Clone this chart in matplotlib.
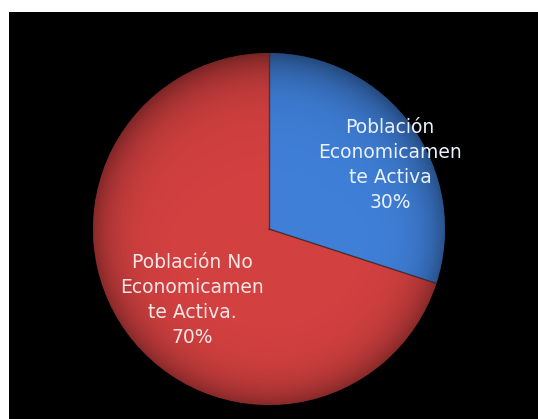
import numpy as np
import matplotlib.pyplot as plt
from matplotlib.patches import Circle

labels = ['Población\nEconomicamen\nte Activa\n30%',
          'Población No\nEconomicamen\nte Activa.\n70%']
shares = [30, 70]
colors = ['#3f7fd8', '#d24040']

W, H = 538, 419
fig = plt.figure(figsize=(W / 100, H / 100), dpi=100, facecolor='white')
# black plot area, in pixel units so the pie stays round
ax = fig.add_axes([9 / W, 0, (W - 9) / W, (H - 12) / H])
ax.set_facecolor('black')

cx, cy, r = 269, 419 - 229, 176
wedges, _ = ax.pie(shares, colors=colors, startangle=90, counterclock=False,
                   center=(cx, cy), radius=r, frame=True,
                   wedgeprops=dict(edgecolor='none', linewidth=0))

# dark seams between the slices
for w in wedges:
    a = np.deg2rad(w.theta1)
    ax.plot([cx, cx + r * np.cos(a)], [cy, cy + r * np.sin(a)],
            color='#3a2a2a', lw=1.0, alpha=0.8, zorder=4)

# soft bevel: darken toward the rim
n = 400
gx, gy = np.meshgrid(np.linspace(-1, 1, n), np.linspace(-1, 1, n))
rr = np.sqrt(gx ** 2 + gy ** 2)
shade = np.zeros((n, n, 4))
shade[..., 3] = np.clip(0.35 * rr ** 8 + 0.10 * np.clip(-gy, 0, 1) * rr ** 2, 0, 1)
im = ax.imshow(shade, extent=(cx - r, cx + r, cy - r, cy + r), origin='upper',
               zorder=3, interpolation='bilinear')
im.set_clip_path(Circle((cx, cy), r, transform=ax.transData))

ax.text(390, 419 - 165, labels[0], ha='center', va='center', color='#eaf1ff',
        fontsize=13.5, linespacing=1.38, zorder=5)
ax.text(192, 419 - 300, labels[1], ha='center', va='center', color='#f6e6e6',
        fontsize=13.5, linespacing=1.38, zorder=5)

ax.set_xlim(9, W)
ax.set_ylim(0, H - 12)
ax.set_aspect('auto')
ax.set_xticks([])
ax.set_yticks([])
for s in ax.spines.values():
    s.set_visible(False)

fig.savefig('out.png', dpi=100, facecolor='white')
